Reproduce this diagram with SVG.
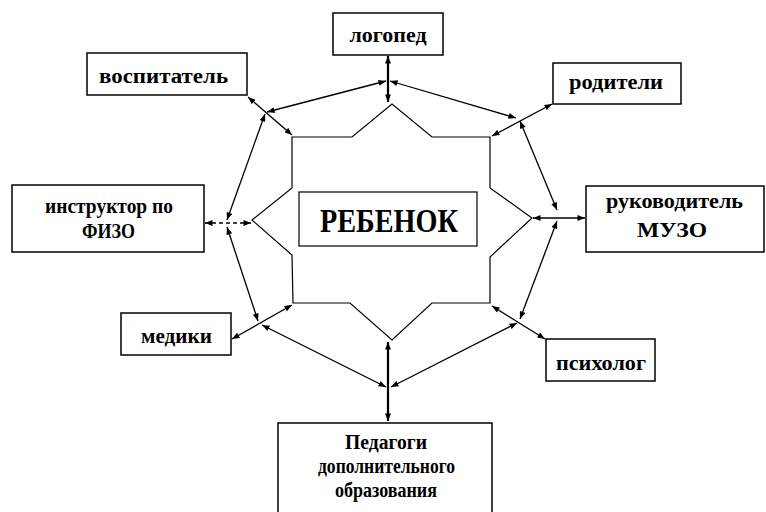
<svg xmlns="http://www.w3.org/2000/svg" width="766" height="512" viewBox="0 0 766 512">
<defs>
<marker id="ah" viewBox="0 0 10 8" refX="10" refY="4" markerWidth="8" markerHeight="6" markerUnits="userSpaceOnUse" orient="auto-start-reverse">
<path d="M0,0 L10,4 L0,8 z" fill="#000"/>
</marker>
<style>
.box{fill:#fff;stroke:#000;stroke-width:1.5}
.t{font-family:"Liberation Serif","Times New Roman",serif;font-weight:bold;font-size:20px;fill:#000;text-anchor:middle}
.big{font-size:33px}
.c{fill:none;stroke:#000;stroke-width:1.3;marker-start:url(#ah);marker-end:url(#ah)}
.v{stroke-width:2.2}
.d{stroke-dasharray:4,3}
.shape{fill:none;stroke:#000;stroke-width:1.2}
</style>
</defs>
<rect width="766" height="512" fill="#fff"/>

<g id="child">
<polygon class="shape" points="292,137 352,137 392,104 432,137 490,137 490,188 532,218 490,257 490,303 432,303 392,340 350,303 293,303 292,255 252,220 292,188"/>
<rect class="box" x="299" y="192" width="178" height="54" style="stroke-width:1.2"/>
<text class="t big" x="389" y="232" textLength="138" lengthAdjust="spacingAndGlyphs">РЕБЕНОК</text>
</g>

<g id="logoped">
<rect class="box" x="333" y="13" width="110" height="42"/>
<text class="t" x="388" y="42" textLength="77" lengthAdjust="spacingAndGlyphs">логопед</text>
</g>
<g id="vospitatel">
<rect class="box" x="87" y="53" width="160" height="42"/>
<text class="t" x="163.5" y="83" textLength="129" lengthAdjust="spacingAndGlyphs">воспитатель</text>
</g>
<g id="roditeli">
<rect class="box" x="553" y="63" width="128" height="41"/>
<text class="t" x="616" y="89" textLength="94" lengthAdjust="spacingAndGlyphs">родители</text>
</g>
<g id="instruktor">
<rect class="box" x="12" y="185" width="192" height="67"/>
<text class="t" x="109" y="213" textLength="128" lengthAdjust="spacingAndGlyphs">инструктор по</text>
<text class="t" x="108.5" y="238" textLength="53" lengthAdjust="spacingAndGlyphs">ФИЗО</text>
</g>
<g id="muzo">
<rect class="box" x="586" y="186" width="178" height="66"/>
<text class="t" x="674.5" y="208" textLength="137" lengthAdjust="spacingAndGlyphs">руководитель</text>
<text class="t" x="672" y="237" textLength="70" lengthAdjust="spacingAndGlyphs">МУЗО</text>
</g>
<g id="mediki">
<rect class="box" x="121" y="313" width="110" height="42"/>
<text class="t" x="176.5" y="343" textLength="71" lengthAdjust="spacingAndGlyphs">медики</text>
</g>
<g id="psiholog">
<rect class="box" x="546" y="339" width="109" height="42"/>
<text class="t" x="601" y="370" textLength="90" lengthAdjust="spacingAndGlyphs">психолог</text>
</g>
<g id="pedagogi">
<rect class="box" x="278" y="423" width="214" height="100"/>
<text class="t" x="386" y="449" textLength="82" lengthAdjust="spacingAndGlyphs">Педагоги</text>
<text class="t" x="386.5" y="473" textLength="137" lengthAdjust="spacingAndGlyphs">дополнительного</text>
<text class="t" x="386" y="497" textLength="102" lengthAdjust="spacingAndGlyphs">образования</text>
</g>

<g id="connectors">
<line class="c" x1="386" y1="81" x2="267" y2="112"/>
<line class="c" x1="390" y1="81" x2="516" y2="118"/>
<line class="c v" x1="388" y1="56" x2="388" y2="102"/>
<line class="c" x1="248" y1="97" x2="292" y2="135"/>
<line class="c" x1="265" y1="114" x2="227" y2="220"/>
<line class="c d" x1="205" y1="223" x2="251" y2="223"/>
<line class="c" x1="227" y1="227" x2="258" y2="321"/>
<line class="c" x1="232" y1="339" x2="292" y2="305"/>
<line class="c" x1="262" y1="325" x2="386" y2="387"/>
<line class="c v" x1="388" y1="342" x2="388" y2="421"/>
<line class="c" x1="391" y1="387" x2="517" y2="323"/>
<line class="c" x1="492" y1="306" x2="545" y2="339"/>
<line class="c" x1="557" y1="221" x2="520" y2="319"/>
<line class="c" x1="533" y1="218" x2="585" y2="218"/>
<line class="c" x1="557" y1="210" x2="520" y2="121"/>
<line class="c" x1="552" y1="104" x2="492" y2="136"/>
</g>
</svg>
